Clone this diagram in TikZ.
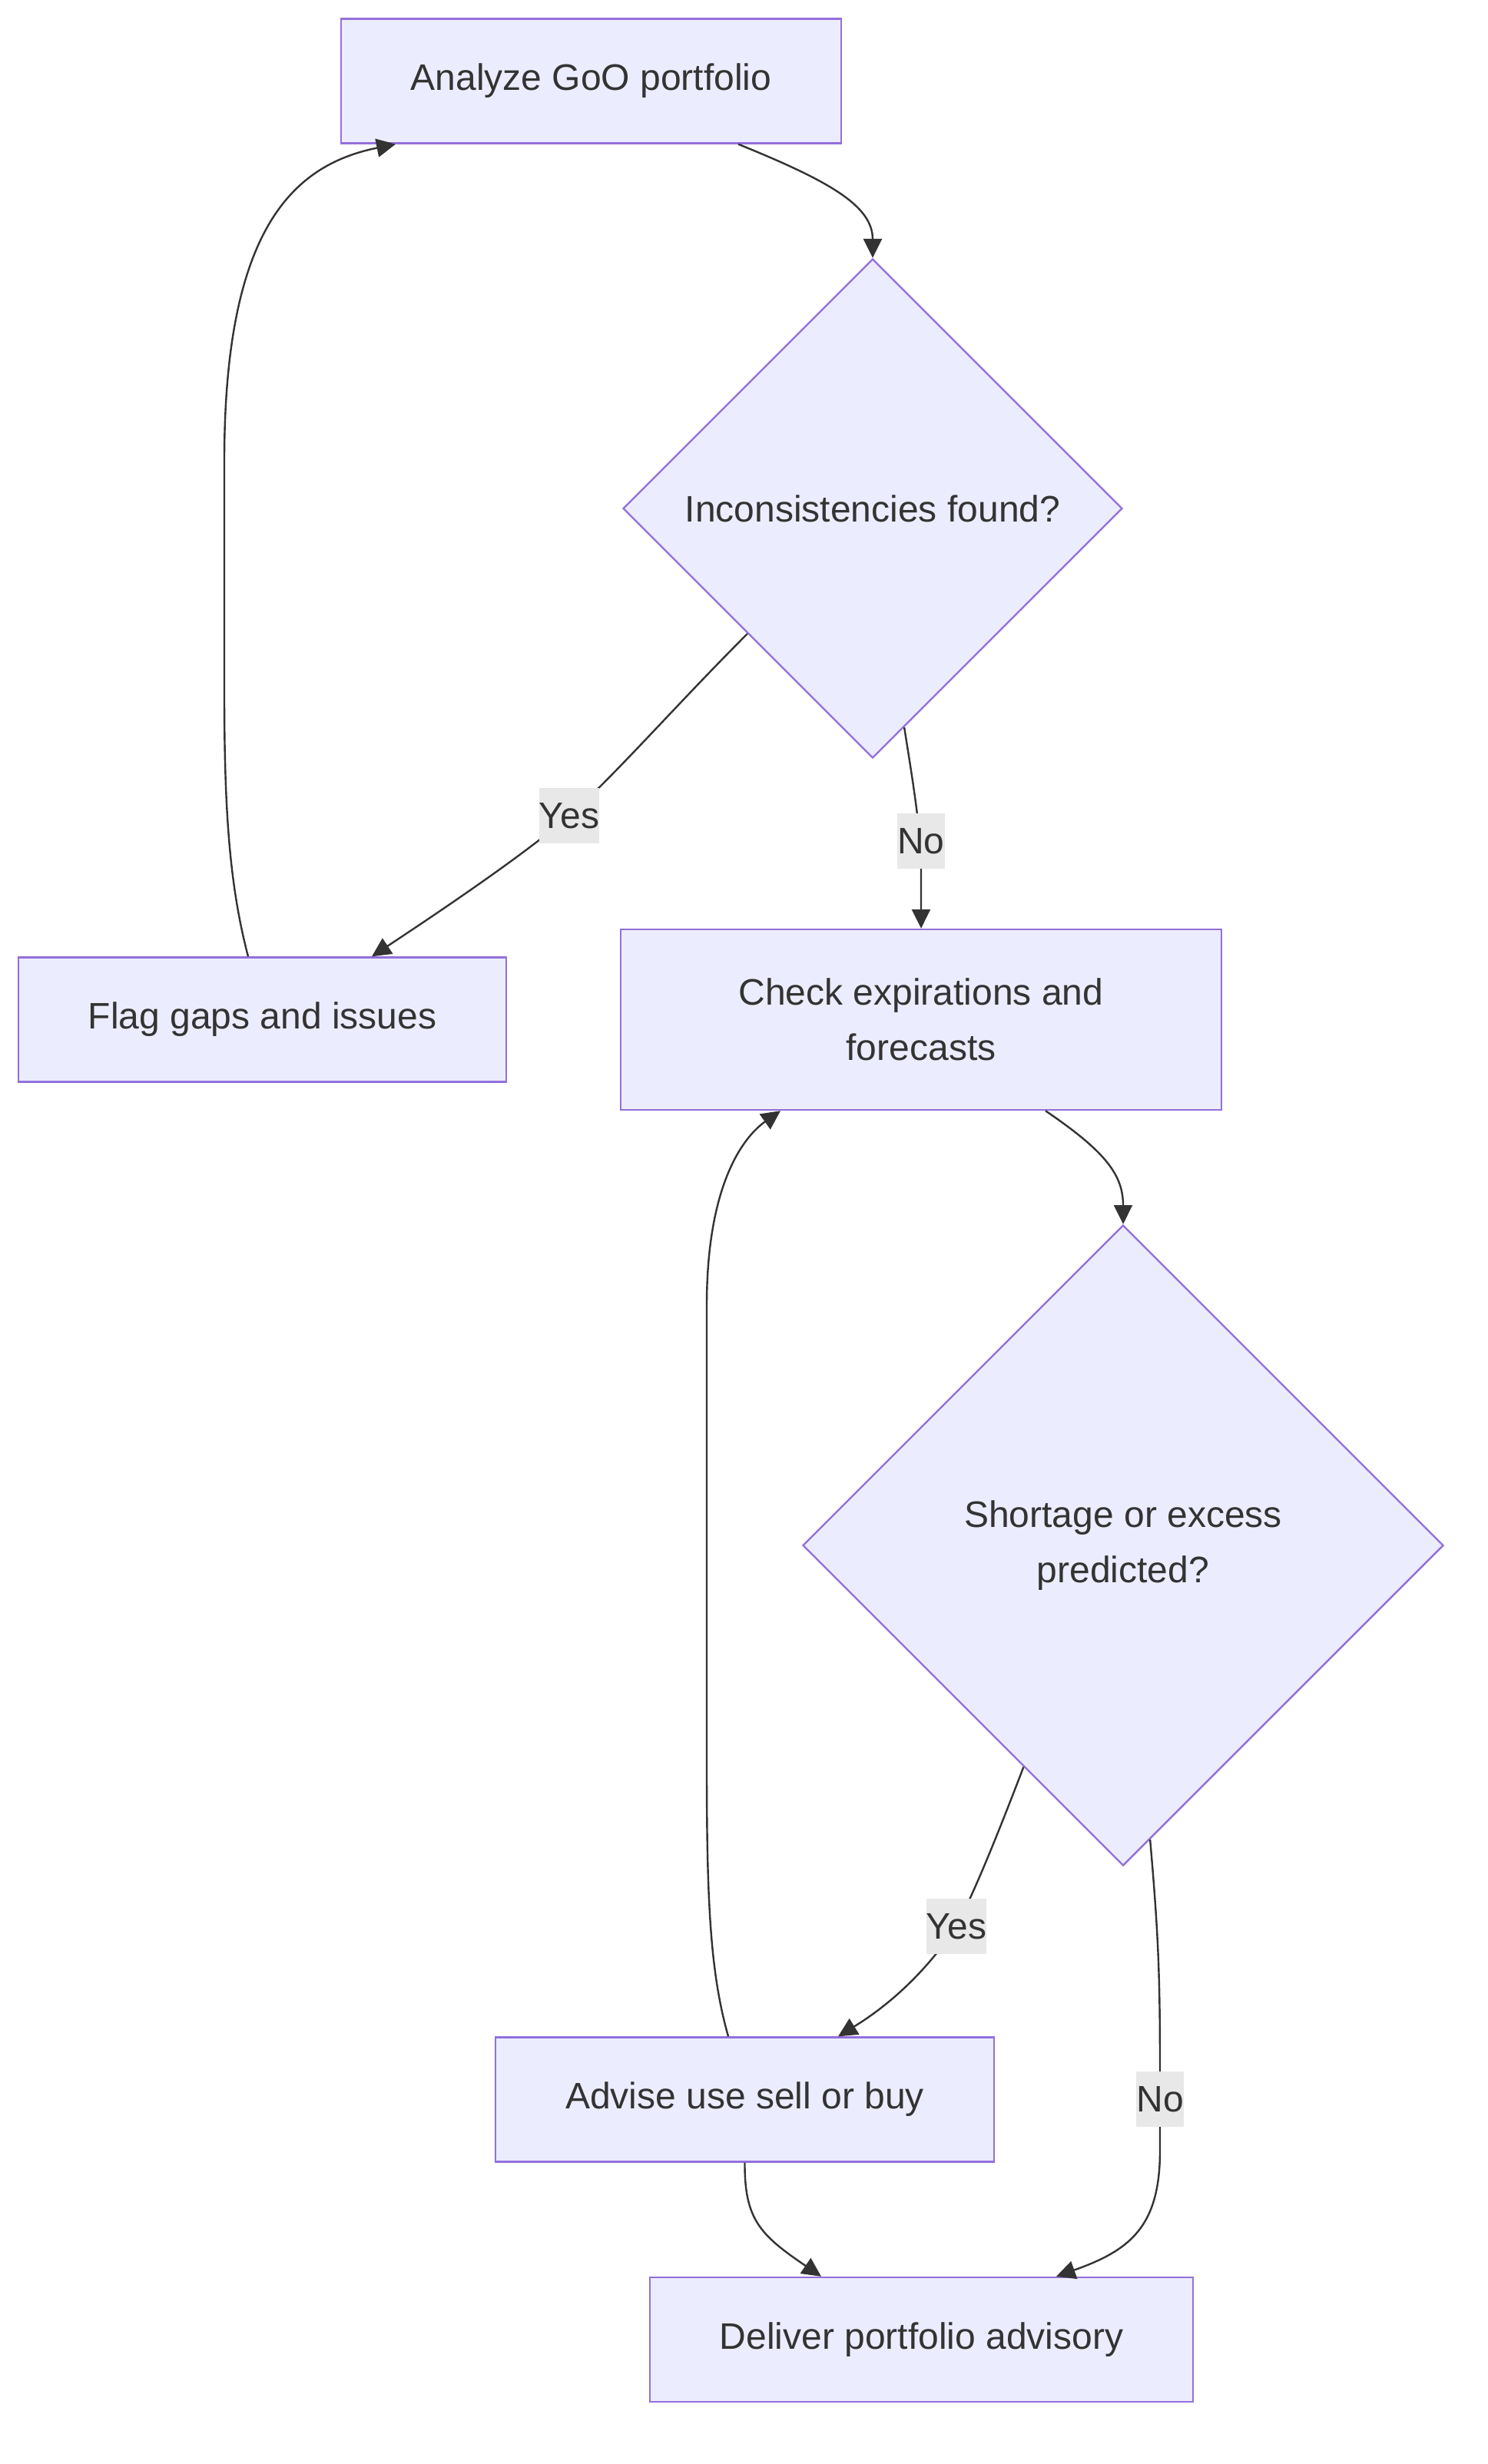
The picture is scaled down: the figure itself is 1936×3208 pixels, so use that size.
\documentclass[tikz,border=0pt]{standalone}
\usepackage{fontspec}
\setmainfont{Liberation Sans}
\usetikzlibrary{shapes.geometric,arrows.meta,calc}
\definecolor{nfill}{HTML}{ECECFF}
\definecolor{nborder}{HTML}{9370DB}
\definecolor{ntext}{HTML}{333333}
\definecolor{lblbg}{HTML}{E8E8E8}
\begin{document}
\begin{tikzpicture}[x=0.25pt,y=-0.25pt,
  every node/.style={font=\fontsize{12}{18}\selectfont, text=ntext},
  procbox/.style={draw=nborder, fill=nfill, line width=0.6pt, align=center, inner sep=0pt, minimum height=40.5pt},
  decide/.style={diamond, draw=nborder, fill=nfill, line width=0.6pt, align=center, inner sep=0pt},
  lbl/.style={fill=lblbg, inner xsep=0pt, inner ysep=0pt, minimum height=18pt},
  flow/.style={draw=ntext, line width=0.6pt, -{Triangle[length=6.2pt,width=6pt]}}
]
\useasboundingbox (0,0) rectangle (1936,3208);

\node[procbox, minimum width=162.75pt] (A) at (769.5,105.5) {Analyze GoO portfolio};
\node[decide, minimum width=162.5pt, minimum height=162.5pt] (D1) at (1136,662) {Inconsistencies found?};
\node[procbox, minimum width=158.75pt] (F) at (341.5,1327.5) {Flag gaps and issues};
\node[procbox, minimum width=195.5pt, minimum height=58.75pt] (C) at (1199,1327.5) {Check expirations and\\forecasts};
\node[decide, minimum width=208.5pt, minimum height=208.5pt] (D2) at (1462,2012) {Shortage or excess\\predicted?};
\node[procbox, minimum width=162.25pt] (V) at (969.5,2733.5) {Advise use sell or buy};
\node[procbox, minimum width=176.75pt] (E) at (1199.5,3046) {Deliver portfolio advisory};

% Analyze -> D1
\draw[flow] ($(A.south)+(191.5,0)$) .. controls (1080,236) and (1136,268) .. (D1.north);
% D1 -> Flag (Yes)
\draw[flow] ($(D1.west)!0.5!(D1.south)$) .. controls (880,918) and (800,1010) .. (741,1062)
  .. controls (680,1115) and (560,1195) .. ($(F.north)+(142.5,0)$);
% D1 -> Check (No)
\draw[flow] ($(D1.south)!0.126!(D1.east)$) .. controls (1192,1040) and (1198,1080) .. (1199,1130) -- (C.north);
% Flag -> Analyze
\draw[flow] ($(F.north)+(-18.5,0)$) .. controls (298,1150) and (292,1050) .. (292,900) -- (292,600)
  .. controls (292,300) and (380,215) .. ($(A.south)+(-254.5,0)$);
% Check -> D2
\draw[flow] ($(C.south)+(162,0)$) .. controls (1440,1500) and (1462,1530) .. (D2.north);
% D2 -> Advise (Yes)
\draw[flow] ($(D2.west)!0.69!(D2.south)$) .. controls (1300,2385) and (1270,2460) .. (1245,2508)
  .. controls (1200,2575) and (1150,2615) .. ($(V.north)+(121.5,0)$);
% D2 -> Deliver (No)
\draw[flow] ($(D2.south)!0.084!(D2.east)$) .. controls (1508,2520) and (1510,2570) .. (1510,2700) -- (1510,2800)
  .. controls (1510,2900) and (1470,2930) .. ($(E.north)+(175.5,0)$);
% Advise -> Deliver
\draw[flow] (V.south) .. controls (969,2890) and (990,2910) .. ($(E.north)+(-130.5,0)$);
% Advise -> Check
\draw[flow] ($(V.north)+(-21.5,0)$) .. controls (925,2570) and (920,2480) .. (920,2300) -- (920,1700)
  .. controls (920,1530) and (975,1475) .. ($(C.south)+(-183,0)$);

\node[lbl] (L1) at (741,1062) {Yes};
\node[lbl] (L2) at (1199,1095) {No};
\node[lbl] (L3) at (1245,2508) {Yes};
\node[lbl] (L4) at (1510,2733) {No};
\end{tikzpicture}
\end{document}
